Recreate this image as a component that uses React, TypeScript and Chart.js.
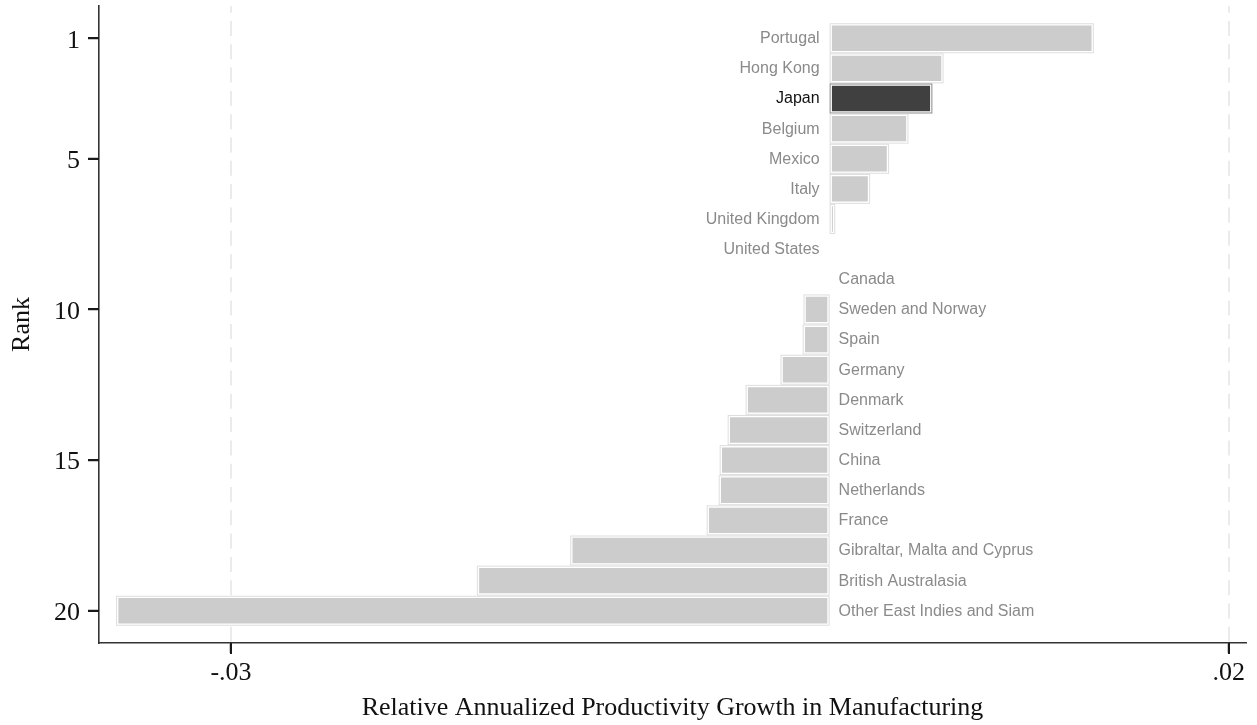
import React, { useEffect, useRef } from 'react';
import { Chart, registerables } from 'chart.js';

Chart.register(...registerables);

// ---- data ----
const countries: string[] = [
  'Portugal', 'Hong Kong', 'Japan', 'Belgium', 'Mexico', 'Italy',
  'United Kingdom', 'United States', 'Canada', 'Sweden and Norway', 'Spain',
  'Germany', 'Denmark', 'Switzerland', 'China', 'Netherlands', 'France',
  'Gibraltar, Malta and Cyprus', 'British Australasia', 'Other East Indies and Siam',
];
const ranks: number[] = [1, 2, 3, 4, 5, 6, 7, 8, 9, 10, 11, 12, 13, 14, 15, 16, 17, 18, 19, 20];
const growth: number[] = [
  0.01324, 0.00571, 0.00515, 0.00395, 0.00298, 0.00203,
  0.00028, 0.00002, -0.00002, -0.00131, -0.00135,
  -0.00246, -0.00421, -0.00511, -0.00551, -0.00556, -0.00616,
  -0.0130, -0.01768, -0.03576,
];
const highlighted = 'Japan';
const xTickValues: number[] = [-0.03, 0.02];
const xTickLabels: string[] = ['-.03', '.02'];
const yTickValues: number[] = [1, 5, 10, 15, 20];

const SERIF = '"Liberation Serif", "Times New Roman", Times, serif';
const SANS = '"Liberation Sans", Arial, Helvetica, sans-serif';

const gridPlugin = {
  id: 'dashedGrid',
  beforeDatasetsDraw(chart: any) {
    const { ctx, chartArea, scales } = chart;
    const xs = scales.x;
    ctx.save();
    ctx.strokeStyle = '#ebebeb';
    ctx.lineWidth = 2;
    ctx.setLineDash([15, 8.3]);
    ctx.lineDashOffset = 8.3;
    xTickValues.forEach((v) => {
      const px = Math.round(xs.getPixelForValue(v));
      ctx.beginPath();
      ctx.moveTo(px, chartArea.top);
      ctx.lineTo(px, chartArea.bottom);
      ctx.stroke();
    });
    ctx.restore();
  },
};

const tickMarkPlugin = {
  id: 'tickMarks',
  afterDraw(chart: any) {
    const { ctx, chartArea, scales } = chart;
    const xs = scales.x;
    const ys = scales.y;
    ctx.save();
    ctx.setLineDash([]);
    ctx.fillStyle = '#1a1a1a';
    for (let k = 0; k < xTickValues.length; k++) {
      const px = Math.round(xs.getPixelForValue(xTickValues[k]));
      ctx.fillRect(px - 1, Math.floor(chartArea.bottom), 2, 11);
    }
    for (let k = 0; k < yTickValues.length; k++) {
      const py = Math.round(ys.getPixelForValue(yTickValues[k]));
      ctx.fillRect(Math.floor(chartArea.left) - 11, py - 1, 11, 2);
    }
    ctx.restore();
  },
};

const barDecorPlugin = {
  id: 'barDecor',
  afterDatasetsDraw(chart: any) {
    const { ctx, scales } = chart;
    const xs = scales.x;
    const zero = xs.getPixelForValue(0);
    const meta = chart.getDatasetMeta(0);
    ctx.save();
    ctx.setLineDash([]);
    meta.data.forEach((el: any, i: number) => {
      const p = el.getProps(['x', 'y', 'base', 'height'], true);
      const left = Math.min(p.x, p.base);
      const right = Math.max(p.x, p.base);
      const w = right - left;
      const top = p.y - p.height / 2;
      if (w >= 1.5) {
        ctx.lineWidth = 1;
        ctx.strokeStyle = countries[i] === highlighted ? '#8a8a8a' : '#dedede';
        ctx.strokeRect(left + 0.5, top + 0.5, w - 1, p.height - 1);
      }
      ctx.font = `16px ${SANS}`;
      ctx.textBaseline = 'middle';
      ctx.fillStyle = countries[i] === highlighted ? '#111111' : '#8a8a8a';
      if (growth[i] >= 0) {
        ctx.textAlign = 'right';
        ctx.fillText(countries[i], zero - 10, p.y + 0.5);
      } else {
        ctx.textAlign = 'left';
        ctx.fillText(countries[i], zero + 9, p.y + 0.5);
      }
    });
    ctx.restore();
  },
};

export default function App() {
  const ref = useRef<HTMLCanvasElement | null>(null);

  useEffect(() => {
    if (!ref.current) return;
    const chart = new Chart(ref.current, {
      type: 'bar',
      data: {
        datasets: [
          {
            data: ranks.map((r, i) => ({ x: growth[i], y: r })),
            backgroundColor: countries.map((c) => (c === highlighted ? '#404040' : '#cccccc')),
            borderColor: '#ffffff',
            borderWidth: 2.3,
            borderSkipped: false,
            categoryPercentage: 1,
            barPercentage: 0.995,
          },
        ],
      },
      options: {
        indexAxis: 'y',
        animation: false,
        responsive: false,
        devicePixelRatio: 1,
        layout: { padding: { top: 6, right: 11, left: 0, bottom: 0 } },
        plugins: {
          legend: { display: false },
          tooltip: { enabled: false },
        },
        scales: {
          x: {
            type: 'linear',
            min: -0.036615,
            max: 0.020867,
            offset: false,
            afterBuildTicks: (s: any) => {
              s.ticks = xTickValues.map((v) => ({ value: v }));
            },
            afterFit: (s: any) => {
              s.height = 82;
              s.paddingLeft = 0;
              s.paddingRight = 0;
            },
            ticks: {
              autoSkip: false,
              maxRotation: 0,
              padding: 5,
              color: '#111111',
              font: { family: SERIF, size: 26 },
              callback: (v: any) => {
                const idx = xTickValues.findIndex((t) => Math.abs(t - Number(v)) < 1e-9);
                return idx >= 0 ? xTickLabels[idx] : '';
              },
            },
            grid: {
              display: true,
              offset: false,
              drawOnChartArea: false,
              drawTicks: true,
              tickLength: 10,
              tickColor: '#222222',
              tickWidth: 1.5,
            },
            border: { display: true, color: '#333333', width: 1.6 },
            title: {
              display: true,
              text: 'Relative Annualized Productivity Growth in Manufacturing',
              color: '#111111',
              font: { family: SERIF, size: 26 },
              padding: { top: 0, bottom: 1 },
            },
          },
          y: {
            type: 'linear',
            reverse: true,
            offset: false,
            min: -0.07,
            max: 21.07,
            afterBuildTicks: (s: any) => {
              s.ticks = yTickValues.map((v) => ({ value: v }));
            },
            afterFit: (s: any) => {
              s.width = 99;
              s.paddingTop = 0;
              s.paddingBottom = 0;
            },
            ticks: {
              autoSkip: false,
              padding: 8,
              labelOffset: 2.5,
              color: '#111111',
              font: { family: SERIF, size: 26 },
              callback: (v: any) => String(v),
            },
            grid: {
              display: true,
              offset: false,
              drawOnChartArea: false,
              drawTicks: true,
              tickLength: 11,
              tickColor: '#222222',
              tickWidth: 1.5,
            },
            border: { display: true, color: '#333333', width: 1.6 },
            title: {
              display: true,
              text: 'Rank',
              color: '#111111',
              font: { family: SERIF, size: 26 },
              padding: { top: 7, bottom: 0 },
            },
          },
        },
      },
      plugins: [gridPlugin, barDecorPlugin, tickMarkPlugin],
    } as any);
    return () => chart.destroy();
  }, []);

  return (
    <div style={{ position: 'fixed', left: 0, top: 0, width: 1257, height: 725, background: '#ffffff' }}>
      <canvas ref={ref} width={1257} height={725} style={{ width: 1257, height: 725, display: 'block' }} />
    </div>
  );
}
